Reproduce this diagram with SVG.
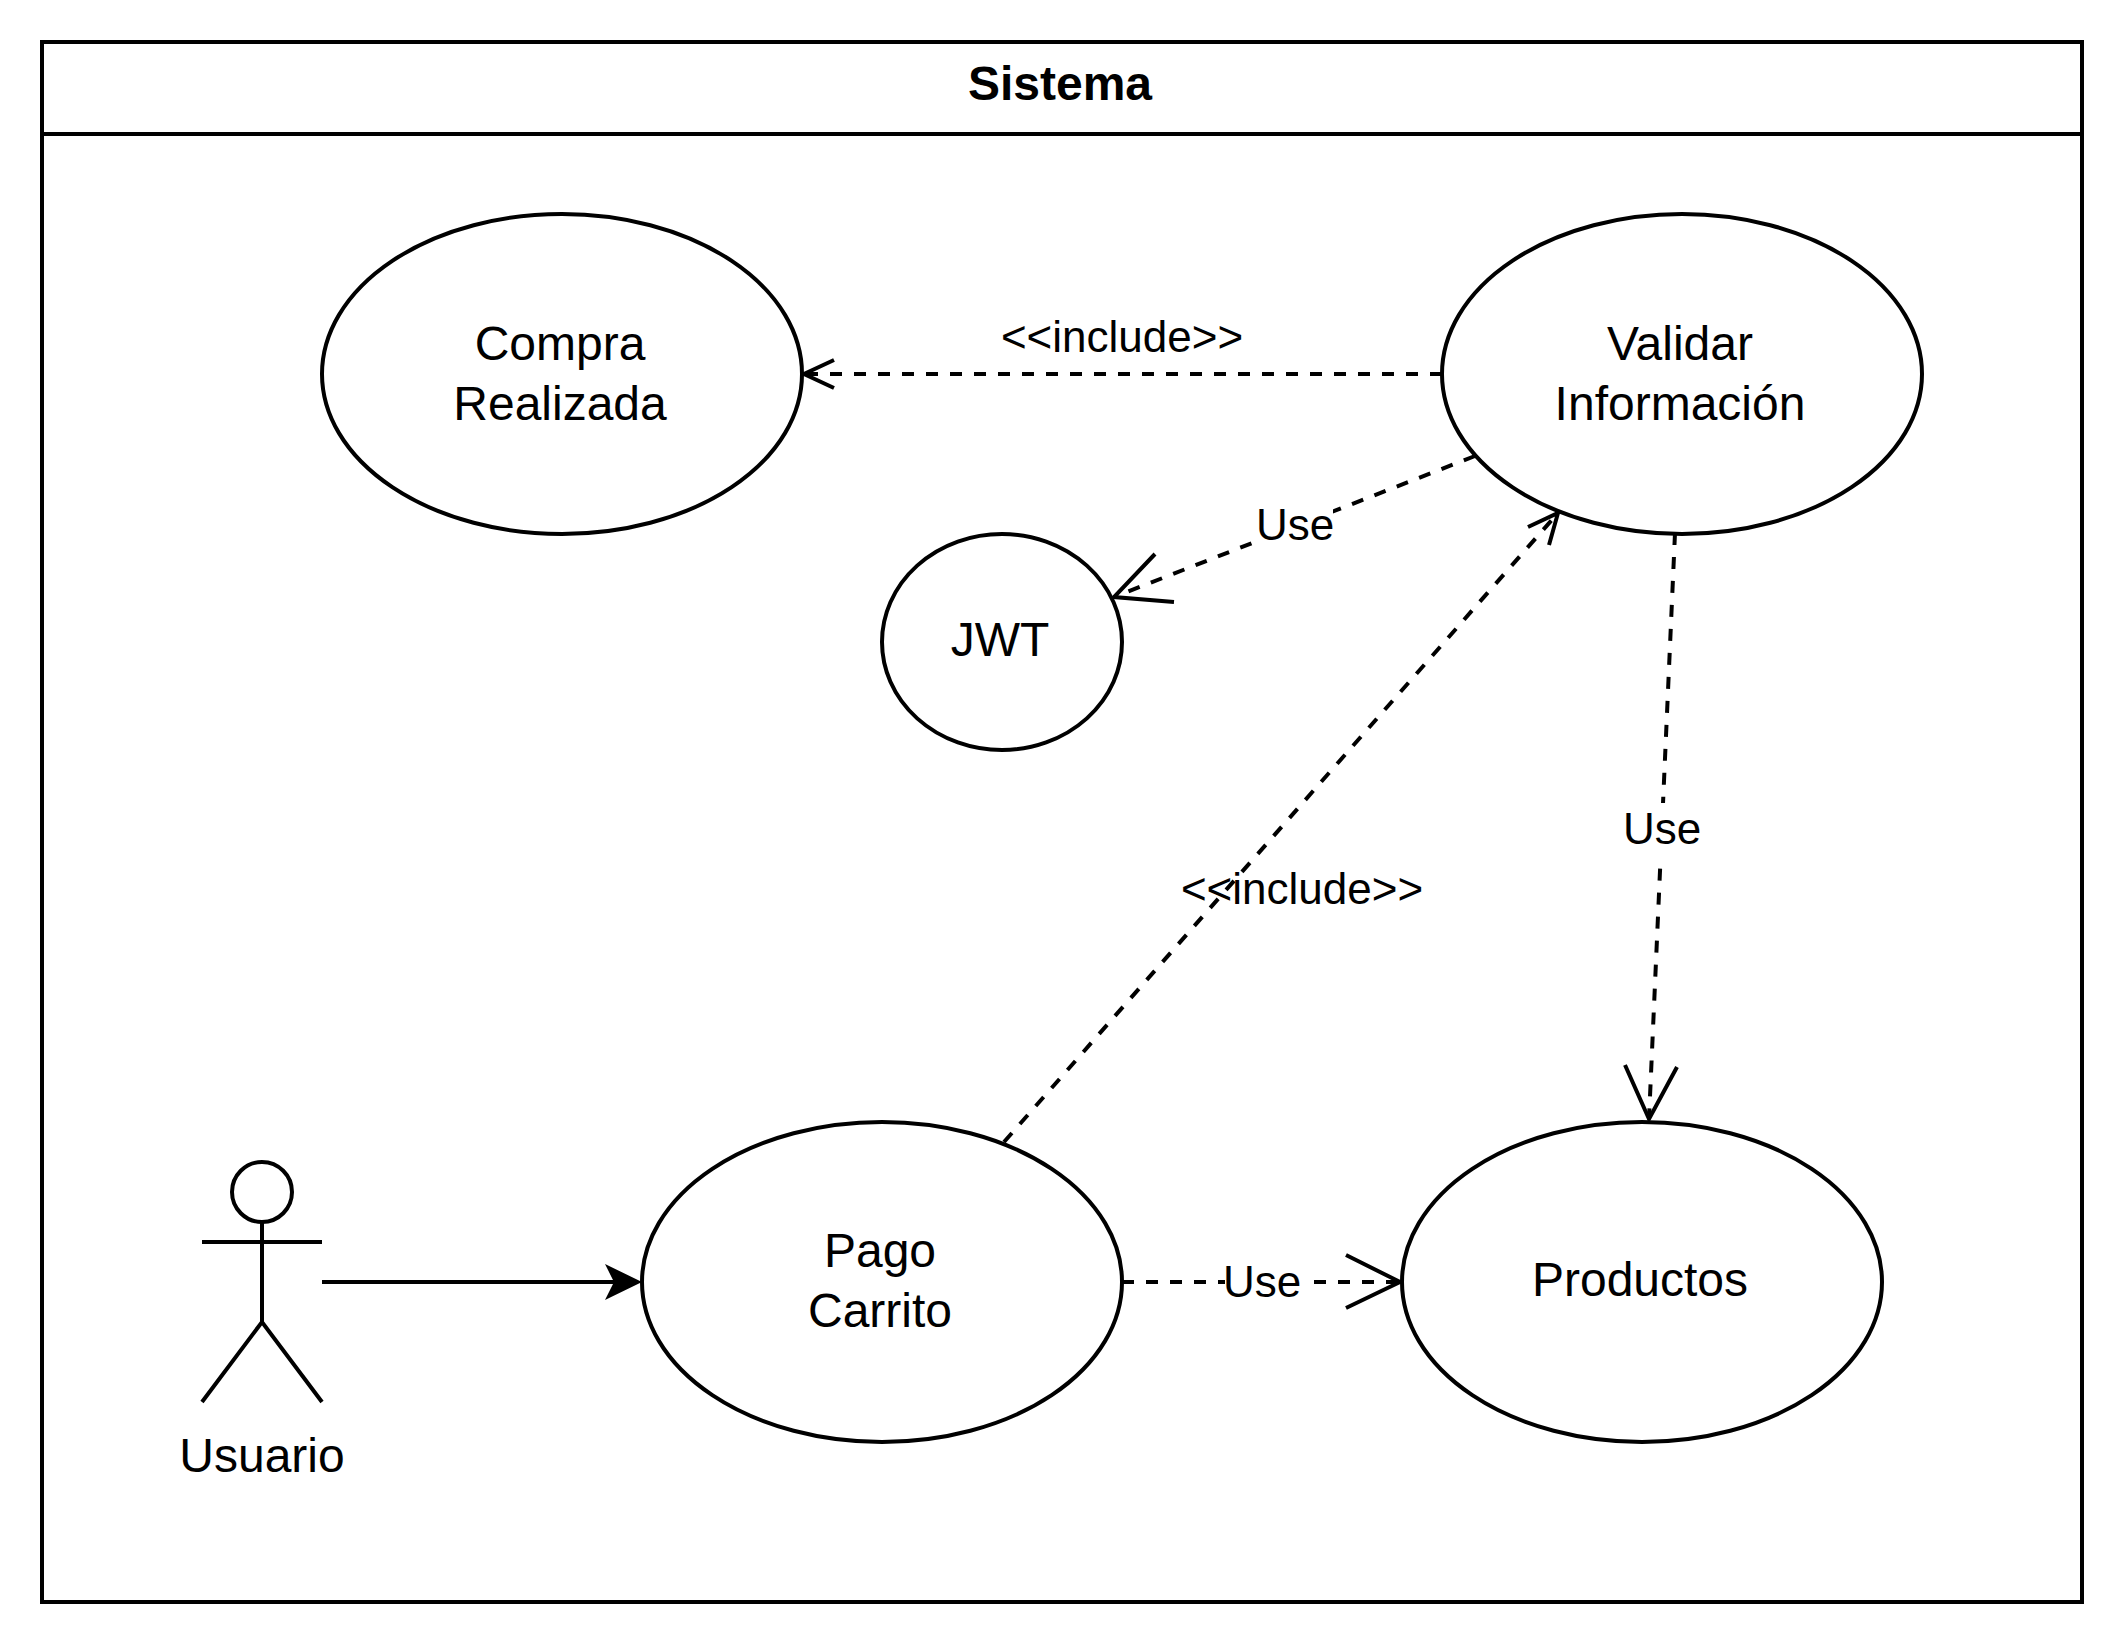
<svg xmlns="http://www.w3.org/2000/svg" width="2128" height="1648" viewBox="0 0 2128 1648">
<style>
.s{fill:none;stroke:#000;stroke-width:4}
.n{fill:#fff;stroke:#000;stroke-width:4}
.d{fill:none;stroke:#000;stroke-width:4;stroke-dasharray:12 12}
text{font-family:"Liberation Sans",Arial,sans-serif;fill:#000;text-anchor:middle}
.t{font-size:48px}
.l{font-size:44px}
.b{font-size:48px;font-weight:bold}
</style>
<rect width="2128" height="1648" fill="#fff"/>
<g id="sistema">
<rect class="s" x="42" y="42" width="2040" height="1560"/>
<line class="s" x1="42" y1="134" x2="2082" y2="134"/>
<text class="b" x="1060" y="100">Sistema</text>
</g>
<g id="connectors">
<path class="d" d="M1442 374H804"/>
<path class="s" d="M834 360L804 374L834 388"/>
<path class="d" d="M1475 456L1114 597"/>
<path class="s" d="M1155 554L1114 597L1174 602"/>
<path class="d" d="M1004 1142L1558 513"/>
<path class="s" d="M1528 527L1558 513L1549 545"/>
<path class="d" d="M1675 533L1649 1119"/>
<path class="s" d="M1625 1065L1649 1119L1677 1067"/>
<path class="d" d="M1122 1282H1400"/>
<path class="s" d="M1346 1255L1400 1282L1346 1308"/>
<path class="s" d="M322 1282H620"/>
<path fill="#000" d="M642 1282L605 1264L614 1282L605 1300Z"/>
</g>
<g id="labels">
<text class="l" x="1122" y="352">&lt;&lt;include&gt;&gt;</text>
<rect x="1254" y="500" width="79" height="52" fill="#fff"/>
<text class="l" x="1295" y="540">Use</text>
<text class="l" x="1302" y="904">&lt;&lt;include&gt;&gt;</text>
<rect x="1622" y="803" width="80" height="54" fill="#fff"/>
<text class="l" x="1662" y="844">Use</text>
<rect x="1225" y="1260" width="77" height="44" fill="#fff"/>
<text class="l" x="1262" y="1297">Use</text>
</g>
<g id="compra">
<ellipse class="n" cx="562" cy="374" rx="240" ry="160"/>
<text class="t" x="560" y="360">Compra</text>
<text class="t" x="560" y="420">Realizada</text>
</g>
<g id="validar">
<ellipse class="n" cx="1682" cy="374" rx="240" ry="160"/>
<text class="t" x="1680" y="360">Validar</text>
<text class="t" x="1680" y="420">Información</text>
</g>
<g id="jwt">
<ellipse class="n" cx="1002" cy="642" rx="120" ry="108"/>
<text class="t" x="1000" y="656">JWT</text>
</g>
<g id="pago">
<ellipse class="n" cx="882" cy="1282" rx="240" ry="160"/>
<text class="t" x="880" y="1267">Pago</text>
<text class="t" x="880" y="1327">Carrito</text>
</g>
<g id="productos">
<ellipse class="n" cx="1642" cy="1282" rx="240" ry="160"/>
<text class="t" x="1640" y="1296">Productos</text>
</g>
<g id="usuario">
<ellipse class="s" cx="262" cy="1192" rx="30" ry="30"/>
<path class="s" d="M262 1222V1322M202 1242H322M202 1402L262 1322L322 1402"/>
<text class="t" x="262" y="1472">Usuario</text>
</g>
</svg>
